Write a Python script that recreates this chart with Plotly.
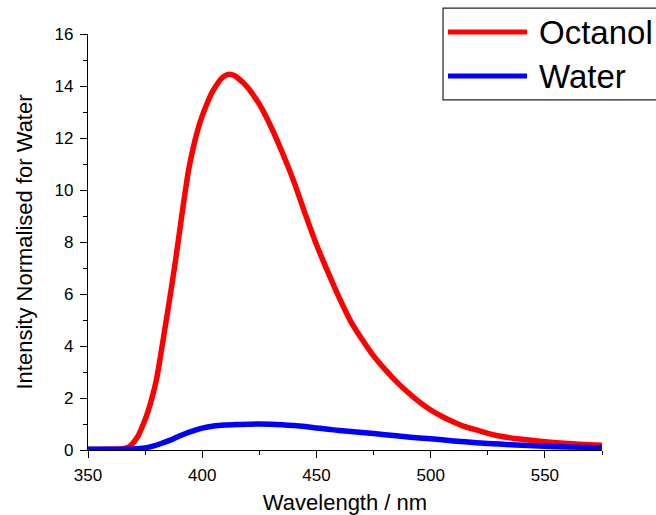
import plotly.graph_objects as go

# Wavelength (nm) and intensities
octanol_nm = [350, 355, 360, 364, 366, 368, 370, 372, 374, 376, 378, 380, 382, 384, 386, 388,
              390, 392, 394, 396, 398, 400, 402, 404, 406, 408, 410, 412, 414, 416, 418, 420,
              422, 425, 430, 435, 440, 445, 450, 455, 460, 465, 470, 475, 480, 485, 490, 495,
              500, 505, 510, 515, 520, 525, 530, 540, 550, 560, 575]
octanol_int = [0.02, 0.02, 0.03, 0.04, 0.06, 0.12, 0.3, 0.55, 0.95, 1.41, 2.0, 2.72, 3.75, 4.85, 5.95, 7.1,
               8.35, 9.6, 10.75, 11.6, 12.3, 12.85, 13.3, 13.7, 14.0, 14.25, 14.4, 14.45, 14.4, 14.28, 14.12, 13.93,
               13.7, 13.3, 12.45, 11.45, 10.35, 9.1, 7.9, 6.85, 5.85, 4.95, 4.25, 3.62, 3.1, 2.63, 2.22, 1.85,
               1.54, 1.29, 1.08, 0.9, 0.77, 0.64, 0.54, 0.41, 0.32, 0.25, 0.18]

water_nm = [350, 360, 370, 375, 378, 382, 386, 390, 395, 400, 405, 410, 415, 420, 425, 430, 435,
            440, 445, 450, 455, 460, 470, 480, 490, 500, 510, 520, 530, 540, 550, 560, 575]
water_int = [0.03, 0.03, 0.04, 0.08, 0.14, 0.25, 0.38, 0.54, 0.71, 0.84, 0.92, 0.96, 0.98, 0.99, 1.0, 0.99, 0.97,
             0.94, 0.9, 0.85, 0.8, 0.75, 0.67, 0.59, 0.5, 0.43, 0.35, 0.28, 0.23, 0.18, 0.14, 0.12, 0.09]

series_names = ["Octanol", "Water"]
series_colors = ["#ff0000", "#0000ff"]

FONT = "Liberation Sans, Arial, sans-serif"

fig = go.Figure()
fig.add_trace(go.Scatter(x=octanol_nm, y=octanol_int, mode="lines", name=series_names[0],
                         line=dict(color=series_colors[0], width=5.5, shape="spline", smoothing=0.6),
                         showlegend=False))
fig.add_trace(go.Scatter(x=water_nm, y=water_int, mode="lines", name=series_names[1],
                         line=dict(color=series_colors[1], width=5.5, shape="spline", smoothing=0.6),
                         showlegend=False))

axis_common = dict(showgrid=False, zeroline=False, showline=True, linecolor="black", linewidth=1.3,
                   ticks="outside", ticklen=7, tickwidth=1.3, tickcolor="black",
                   tickfont=dict(family=FONT, size=17, color="black"))

fig.update_xaxes(range=[350, 575], dtick=50, tick0=350, ticklabelstandoff=2,
                 minor=dict(ticks="outside", ticklen=4, dtick=25, tick0=350, tickcolor="black", tickwidth=1.3),
                 title=dict(text="Wavelength / nm", font=dict(family=FONT, size=22, color="black"), standoff=12),
                 **axis_common)
fig.update_yaxes(range=[0, 16], dtick=2, tick0=0, ticklabelstandoff=3,
                 minor=dict(ticks="outside", ticklen=4, dtick=1, tick0=0, tickcolor="black", tickwidth=1.3),
                 title=dict(text="Intensity Normalised for Water", font=dict(family=FONT, size=22, color="black"), standoff=15),
                 **axis_common)

# Manual legend (box, line samples, labels) in paper coordinates
shapes = [dict(type="rect", xref="paper", yref="paper", x0=0.6907, x1=1.25, y0=0.8415, y1=1.0624,
               line=dict(color="#222222", width=1.2), fillcolor="white", layer="above")]
annotations = []
for name, color, yy in zip(series_names, series_colors, [1.0048, 0.899]):
    shapes.append(dict(type="line", xref="paper", yref="paper", x0=0.7004, x1=0.8541, y0=yy, y1=yy,
                       line=dict(color=color, width=5), layer="above"))
    annotations.append(dict(xref="paper", yref="paper", x=0.8735, y=yy, text=name, showarrow=False,
                            xanchor="left", yanchor="middle", font=dict(family=FONT, size=33, color="black")))

fig.update_layout(width=656, height=515, margin=dict(l=88, r=54, t=34, b=65, autoexpand=False),
                  plot_bgcolor="white", paper_bgcolor="white",
                  shapes=shapes, annotations=annotations)

fig.write_html("out.html", config={"displayModeBar": False},
               post_script="document.body.style.margin='0';document.body.style.overflow='hidden';")
